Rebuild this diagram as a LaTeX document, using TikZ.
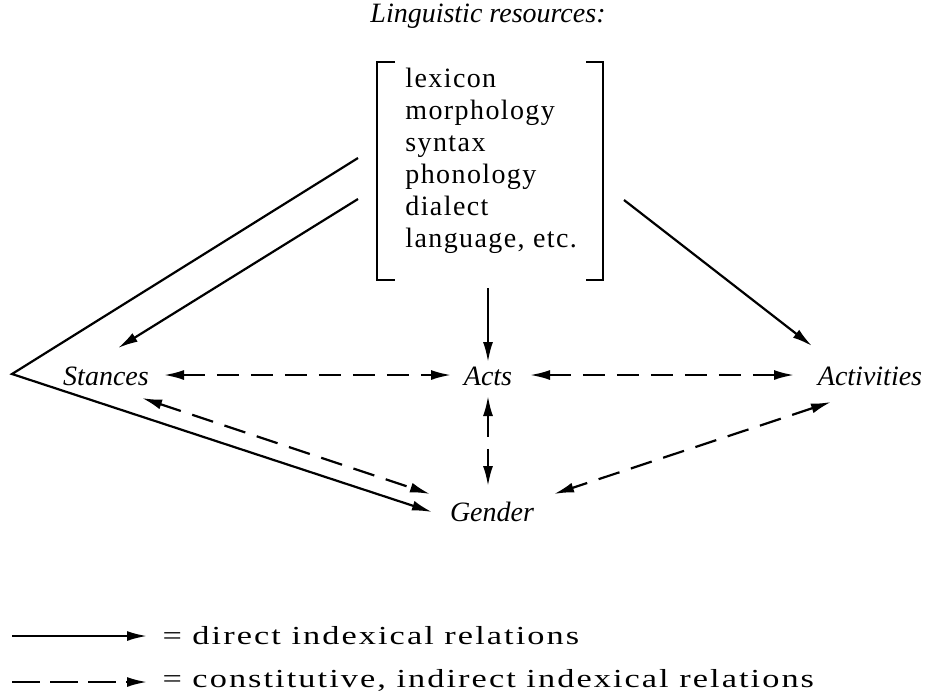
\documentclass[tikz,border=0pt]{standalone}
\usepackage{fontspec}
\setmainfont{Liberation Serif}
\newfontfamily\resfont[LetterSpace=5]{Liberation Serif}
\newfontfamily\legfont[LetterSpace=6]{Liberation Serif}
\usetikzlibrary{arrows.meta}
\tikzset{
  lbl/.style={inner sep=0pt, font=\fontsize{14}{16}\selectfont\itshape},
  res/.style={inner sep=0pt, font=\resfont\fontsize{14}{16}\selectfont, align=left, anchor=north west},
  legtxt/.style={inner sep=0pt, font=\legfont\fontsize{13}{15}\selectfont, anchor=west, xscale=1.32, transform shape},
  direct/.style={line width=1.1pt, -{Latex[length=10pt,width=5pt]}},
  constit/.style={line width=1.1pt, dash pattern=on 11pt off 6pt, {Latex[length=10pt,width=5pt]}-{Latex[length=10pt,width=5pt]}},
  legdash/.style={line width=1.1pt, dash pattern=on 14pt off 5pt, -{Latex[length=10pt,width=5pt]}},
  brk/.style={line width=1.1pt}
}
\begin{document}
\begin{tikzpicture}[x=0.5pt,y=-0.5pt]
\useasboundingbox (0,0) rectangle (928,693);
% title
\node[lbl] (title) at (488,16) {Linguistic resources:};
% bracket
\draw[brk] (395,62) -- (377,62) -- (377,280) -- (395,280);
\draw[brk] (586,62) -- (603,62) -- (603,280) -- (586,280);
\node[res] (res) at (405,68) {lexicon\\morphology\\syntax\\phonology\\dialect\\language, etc.};
% labels
\node[lbl] (stances) at (106,376) {Stances};
\node[lbl] (acts) at (488,376) {Acts};
\node[lbl] (activities) at (870,376) {Activities};
\node[lbl] (gender) at (492,512) {Gender};
% coordinates
\coordinate (v) at (12,374);
\coordinate (s1) at (358,158);
\coordinate (s2) at (358,199);
\coordinate (sT) at (118,348);
\coordinate (gT) at (432,512);
\coordinate (r1) at (624,200);
\coordinate (aT) at (812,346);
\coordinate (b1) at (488,288);
\coordinate (b2) at (488,362);
\coordinate (sa1) at (164,375);
\coordinate (sa2) at (451,375);
\coordinate (aa1) at (530,375);
\coordinate (aa2) at (794,375);
\coordinate (ag1) at (488,396);
\coordinate (ag2) at (488,486);
\coordinate (sg1) at (142,398);
\coordinate (sg2) at (430,494);
\coordinate (vg1) at (831,402);
\coordinate (vg2) at (554,494);
% direct relations
\draw[direct] (s1) -- (v) -- (gT);
\draw[direct] (s2) -- (sT);
\draw[direct] (r1) -- (aT);
\draw[direct] (b1) -- (b2);
% constitutive relations
\draw[constit] (sa1) -- (sa2);
\draw[constit] (aa1) -- (aa2);
\draw[constit] (ag1) -- (ag2);
\draw[constit] (sg1) -- (sg2);
\draw[constit] (vg1) -- (vg2);
% legend
\coordinate (l1a) at (12,636);
\coordinate (l1b) at (147,636);
\coordinate (l2a) at (12,682);
\coordinate (l2b) at (147,682);
\draw[direct] (l1a) -- (l1b);
\draw[legdash] (l2a) -- (l2b);
\node[legtxt] (leg1) at (162,636) {= direct indexical relations};
\node[legtxt] (leg2) at (162,680) {= constitutive, indirect indexical relations};
\end{tikzpicture}
\end{document}
